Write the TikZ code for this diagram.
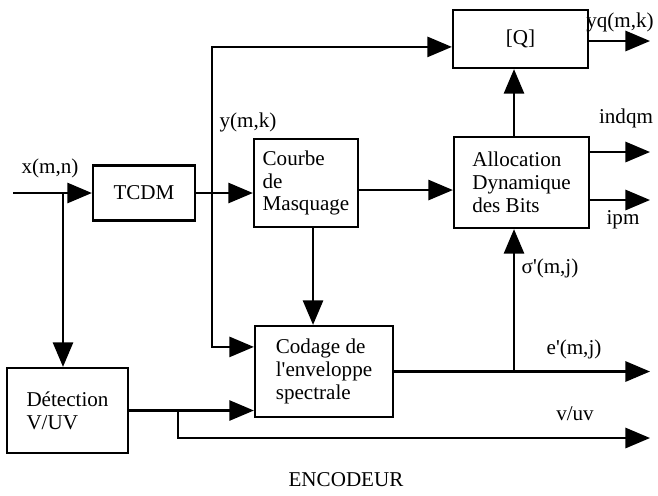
\documentclass[tikz,border=0pt]{standalone}
\usepackage{fontspec}
\setmainfont{Liberation Serif}
\usetikzlibrary{arrows.meta}

\begin{document}
\begin{tikzpicture}[x=0.02cm, y=-0.02cm, >={Triangle[length=14pt,width=11.5pt]},
  line width=1.3pt,
  every node/.style={font=\fontsize{12}{13}\selectfont},
  block/.style={draw, align=left, inner sep=0pt}]

\useasboundingbox (0,0) rectangle (658,495);

% blocks
\node [block, minimum width=2.04cm, minimum height=1.1cm] (tcdm) at (144,193) {TCDM};
\node [block, minimum width=2.08cm, minimum height=1.76cm] (courbe) at (306,183) {Courbe\\de\\Masquage};
\node [block, minimum width=2.7cm, minimum height=1.16cm] (quant) at (520.5,39) {[Q]};
\node [block, minimum width=2.7cm, minimum height=1.82cm] (alloc) at (521.5,182.5) {Allocation\\Dynamique\\des Bits};
\node [block, minimum width=2.76cm, minimum height=1.82cm] (codage) at (324,371.5) {Codage de\\l\textquotesingle enveloppe\\spectrale};
\node [block, minimum width=2.42cm, minimum height=1.7cm] (detect) at (67.5,410.5) {Détection\\V/UV};

% branch points and loose ends
\coordinate (in) at (13,193);
\coordinate (split) at (63,193);
\coordinate (ytap) at (212,193);
\coordinate (vtap) at (178,410.5);
\coordinate (etap) at (514,371.5);
\coordinate (eout) at (650,371.5);
\coordinate (vout) at (650,438);

\draw [->] (in) -- (tcdm);
\draw [->] (split) -- (split |- detect.north);
\draw [->] (tcdm.east) -- (tcdm.east -| courbe.west);
\draw [->] (ytap) |- ([yshift=-4.5pt]quant.west);
\draw [->] (ytap) |- ([yshift=14pt]codage.west);
\draw [->] ([yshift=-4pt]courbe.east) -- ([yshift=-4pt]courbe.east -| alloc.west);
\draw [->] ([xshift=4pt]courbe.south) -- ([xshift=4pt]courbe.south |- codage.north);
\draw [->] (detect.east) -- (detect.east -| codage.west);
\draw [->] (vtap) |- (vout);
\draw [->] (codage.east) -- (eout);
\draw [->] (etap) -- (etap |- alloc.south);
\draw [->] (etap |- alloc.north) -- (etap |- quant.south);

% outputs on the right
\foreach \b/\yy [count=\i] in {quant/41, alloc/152, alloc/200} {
  \coordinate (out-\i) at (650,\yy);
  \draw [->] (\b.east |- out-\i) -- (out-\i);
}

% signal names
\node (xmn) at (50,168) {x(m,n)};
\node (ymk) at (248,122) {y(m,k)};
\node (yqmk) at (620,22) {yq(m,k)};
\node (indqm) at (626,118) {indqm};
\node (ipm) at (623,220) {ipm};
\node (sigma) at (550,268) {σ\textquotesingle(m,j)};
\node (emj) at (574,349) {e\textquotesingle(m,j)};
\node (vuv) at (575,414) {v/uv};

\node (title) at (346,480) {ENCODEUR};
\end{tikzpicture}
\end{document}
